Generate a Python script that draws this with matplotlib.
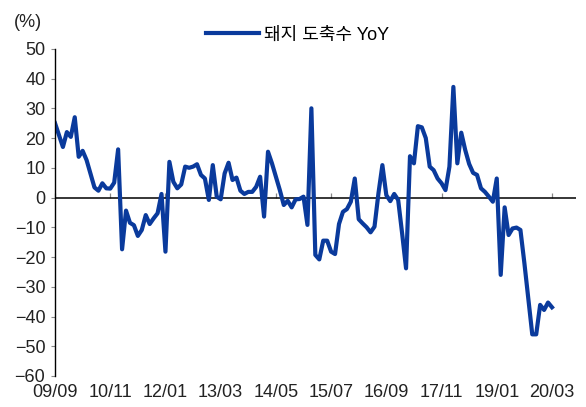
import numpy as np
import matplotlib
matplotlib.use("Agg")
import matplotlib.pyplot as plt

plt.rcParams['font.family'] = ['Liberation Sans', 'Noto Sans CJK KR', 'DejaVu Sans']
plt.rcParams['axes.unicode_minus'] = True

# monthly YoY change of pig slaughter count, 2009/09 .. 2020/03
yoy = [25, 21, 17, 22, 20.4, 27, 13.7, 15.7, 12.6, 8,
       3.4, 2.3, 4.8, 3.1, 3, 5, 16.2, -17.4, -4.4, -8.5,
       -9.3, -12.9, -10.9, -5.9, -8.9, -7, -5.3, 1.2, -18.2, 12,
       5.3, 3.1, 4.4, 10.4, 10, 10.4, 11.2, 7.6, 6.4, -0.8,
       10.9, 0.3, -0.6, 8.1, 11.7, 5.9, 6.7, 2.3, 1.2, 1.9,
       1.9, 3.6, 7, -6.4, 15.4, 11.5, 7, 2.5, -2.5, -1.1,
       -3.3, -0.6, -0.5, 0.3, -9.2, 30, -19.3, -20.8, -14.5, -14.5,
       -18.2, -19, -8.9, -4.8, -3.9, -1.4, 6.4, -7.3, -8.7, -10,
       -11.7, -9.8, 1.4, 10.9, 0.8, -1.2, 1.2, -0.8, -12, -23.8,
       13.9, 11.5, 24, 23.6, 20, 10.4, 9.2, 6.4, 4.8, 2.5,
       10.4, 37.2, 11.5, 21.8, 16, 11.3, 8.3, 7.6, 3.1, 1.9,
       0.3, -1.4, 6.4, -26, -3.3, -12.6, -10.4, -10.1, -10.9, -22,
       -34, -46, -46, -36.1, -37.8, -35.3, -36.9]
tick_labels = ['09/09', '10/11', '12/01', '13/03', '14/05',
               '15/07', '16/09', '17/11', '19/01', '20/03']
tick_step = 14  # months between labels

x = np.arange(len(yoy))
ticks = np.arange(len(tick_labels)) * tick_step

fig = plt.figure(figsize=(5.86, 4.07), dpi=100)
ax = fig.add_axes([0.0939, 0.0762, 0.983 - 0.0939, 0.880 - 0.0762])

ax.plot(x, yoy, color='#0a3a9c', lw=3.0, label='돼지 도축수 YoY', solid_joinstyle='round')
ax.axhline(0, color='black', lw=1.1, zorder=1)

ax.set_xlim(0, 132.1)
ax.set_ylim(-60, 50)
ax.set_yticks(np.arange(-60, 51, 10))
ax.tick_params(axis='y', direction='out', length=3, width=0.8, color='#888888',
               labelsize=13, pad=4, labelcolor='#222222')

ax.set_xticks(ticks)
ax.set_xticklabels(tick_labels)
ax.tick_params(axis='x', length=0, labelsize=13, pad=6, labelcolor='#222222')

for s in ['top', 'right', 'bottom']:
    ax.spines[s].set_visible(False)
ax.spines['left'].set_linewidth(1.0)

# little ticks sitting on the zero line
zero_frac = (0 - (-60)) / 110.0
sec = ax.secondary_xaxis(zero_frac)
sec.set_xticks(ticks)
sec.set_xticklabels([])
sec.tick_params(axis='x', direction='out', length=3.5, width=0.9, color='#888888')
sec.spines['bottom'].set_visible(False)
sec.spines['top'].set_visible(False)

fig.text(0.024, 0.945, '(%)', fontsize=13, color='#222222', va='center', ha='left')

ax.legend(loc='center', bbox_to_anchor=(0.508, 0.914), bbox_transform=fig.transFigure,
          frameon=False, fontsize=13, handlelength=2.9, handletextpad=0.3)

fig.savefig('out.png', dpi=100)
